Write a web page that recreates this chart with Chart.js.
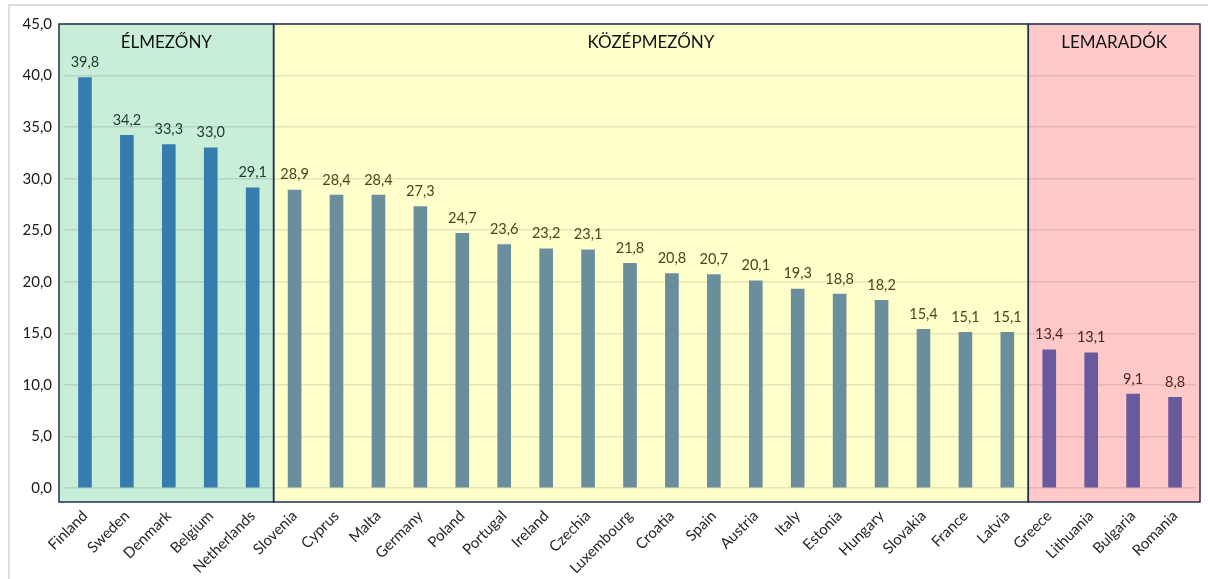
<!DOCTYPE html>
<html>
<head>
<meta charset="utf-8">
<script src="https://cdn.jsdelivr.net/npm/chart.js@4"></script>
<style>
  html, body { margin: 0; padding: 0; background: #fff; }
  #wrap { position: relative; width: 1208px; height: 579px; }
  #frame { position: absolute; left: 8px; top: 4px; right: 0; bottom: 0; border-top: 2px solid #dcdcdc; border-left: 2px solid #dcdcdc; }
  canvas { position: absolute; left: 0; top: 0; }
</style>
</head>
<body>
<div id="wrap">
  <div id="frame"></div>
  <canvas id="myChart" width="1208" height="579"></canvas>
</div>
<script>
var countries = ['Finland', 'Sweden', 'Denmark', 'Belgium', 'Netherlands', 'Slovenia', 'Cyprus', 'Malta', 'Germany', 'Poland', 'Portugal', 'Ireland', 'Czechia', 'Luxembourg', 'Croatia', 'Spain', 'Austria', 'Italy', 'Estonia', 'Hungary', 'Slovakia', 'France', 'Latvia', 'Greece', 'Lithuania', 'Bulgaria', 'Romania'];
var values = [39.8, 34.2, 33.3, 33.0, 29.1, 28.9, 28.4, 28.4, 27.3, 24.7, 23.6, 23.2, 23.1, 21.8, 20.8, 20.7, 20.1, 19.3, 18.8, 18.2, 15.4, 15.1, 15.1, 13.4, 13.1, 9.1, 8.8];
var groupNames = ['ÉLMEZŐNY', 'KÖZÉPMEZŐNY', 'LEMARADÓK'];
var groupSizes = [5, 18, 4];
var yTicks = [0, 5, 10, 15, 20, 25, 30, 35, 40, 45];

// styles per group
var boxFill = ['#c9eed8', '#ffffcc', '#ffc9c9'];
var barFill = ['#367cae', '#6a8e9c', '#695a9e'];
var labelColor = ['#1e3a2a', '#4a4520', '#561c1c'];
var FONT = 'Lato, "Open Sans", sans-serif';

var groupOf = [];
groupSizes.forEach(function (n, g) { for (var i = 0; i < n; i++) groupOf.push(g); });

function fmt(v) { return v.toFixed(1).replace('.', ','); }

var boxesPlugin = {
  id: 'boxes',
  beforeDraw: function (chart) {
    var ctx = chart.ctx, a = chart.chartArea, x = chart.scales.x;
    var half = (x.getPixelForValue(1) - x.getPixelForValue(0)) / 2;
    var start = 0;
    chart._boxes = [];
    groupSizes.forEach(function (n, g) {
      var l = g === 0 ? a.left - 5 : x.getPixelForValue(start) - half;
      var r = g === groupSizes.length - 1 ? a.right + 4 : x.getPixelForValue(start + n - 1) + half;
      ctx.fillStyle = boxFill[g];
      ctx.fillRect(l, a.top, r - l, a.bottom + 14 - a.top);
      chart._boxes.push([l, r]);
      start += n;
    });
  },
  afterDraw: function (chart) {
    var ctx = chart.ctx, a = chart.chartArea;
    ctx.save();
    ctx.strokeStyle = '#1f2f4f';
    ctx.lineWidth = 1.5;
    chart._boxes.forEach(function (b, g) {
      ctx.strokeRect(b[0], a.top, b[1] - b[0], a.bottom + 14 - a.top);
      ctx.fillStyle = '#111';
      ctx.font = '17px ' + FONT;
      ctx.textAlign = 'center';
      ctx.textBaseline = 'middle';
      ctx.fillText(groupNames[g], (b[0] + b[1]) / 2, a.top + 19);
    });
    // value labels
    var meta = chart.getDatasetMeta(0);
    ctx.font = '14.5px ' + FONT;
    ctx.textAlign = 'center';
    ctx.textBaseline = 'bottom';
    meta.data.forEach(function (bar, i) {
      ctx.fillStyle = labelColor[groupOf[i]];
      ctx.fillText(fmt(values[i]), bar.x, bar.y - 8);
    });
    ctx.restore();
  }
};

new Chart('myChart', {
  type: 'bar',
  data: {
    labels: countries,
    datasets: [{
      data: values,
      backgroundColor: groupOf.map(function (g) { return barFill[g]; }),
      barThickness: 13
    }]
  },
  options: {
    responsive: false,
    animation: false,
    layout: { padding: { left: 9, right: 12, top: 24, bottom: 0 } },
    plugins: { legend: { display: false }, tooltip: { enabled: false } },
    scales: {
      x: {
        afterFit: function (s) { s.height = 91; },
        grid: { display: false },
        border: { display: false },
        ticks: {
          minRotation: 45, maxRotation: 45, padding: 11,
          color: '#262626', font: { family: FONT, size: 15 }
        }
      },
      y: {
        min: 0, max: 45,
        afterBuildTicks: function (s) { s.ticks = yTicks.map(function (v) { return { value: v }; }); },
        afterFit: function (s) { s.width = 55; },
        grid: { color: 'rgba(0,0,0,0.1)', lineWidth: 1.5, drawTicks: false },
        border: { display: false },
        ticks: {
          padding: 12, color: '#1a1a1a', font: { family: FONT, size: 15 },
          callback: function (v) { return fmt(v); }
        }
      }
    }
  },
  plugins: [boxesPlugin]
});
</script>
</body>
</html>
